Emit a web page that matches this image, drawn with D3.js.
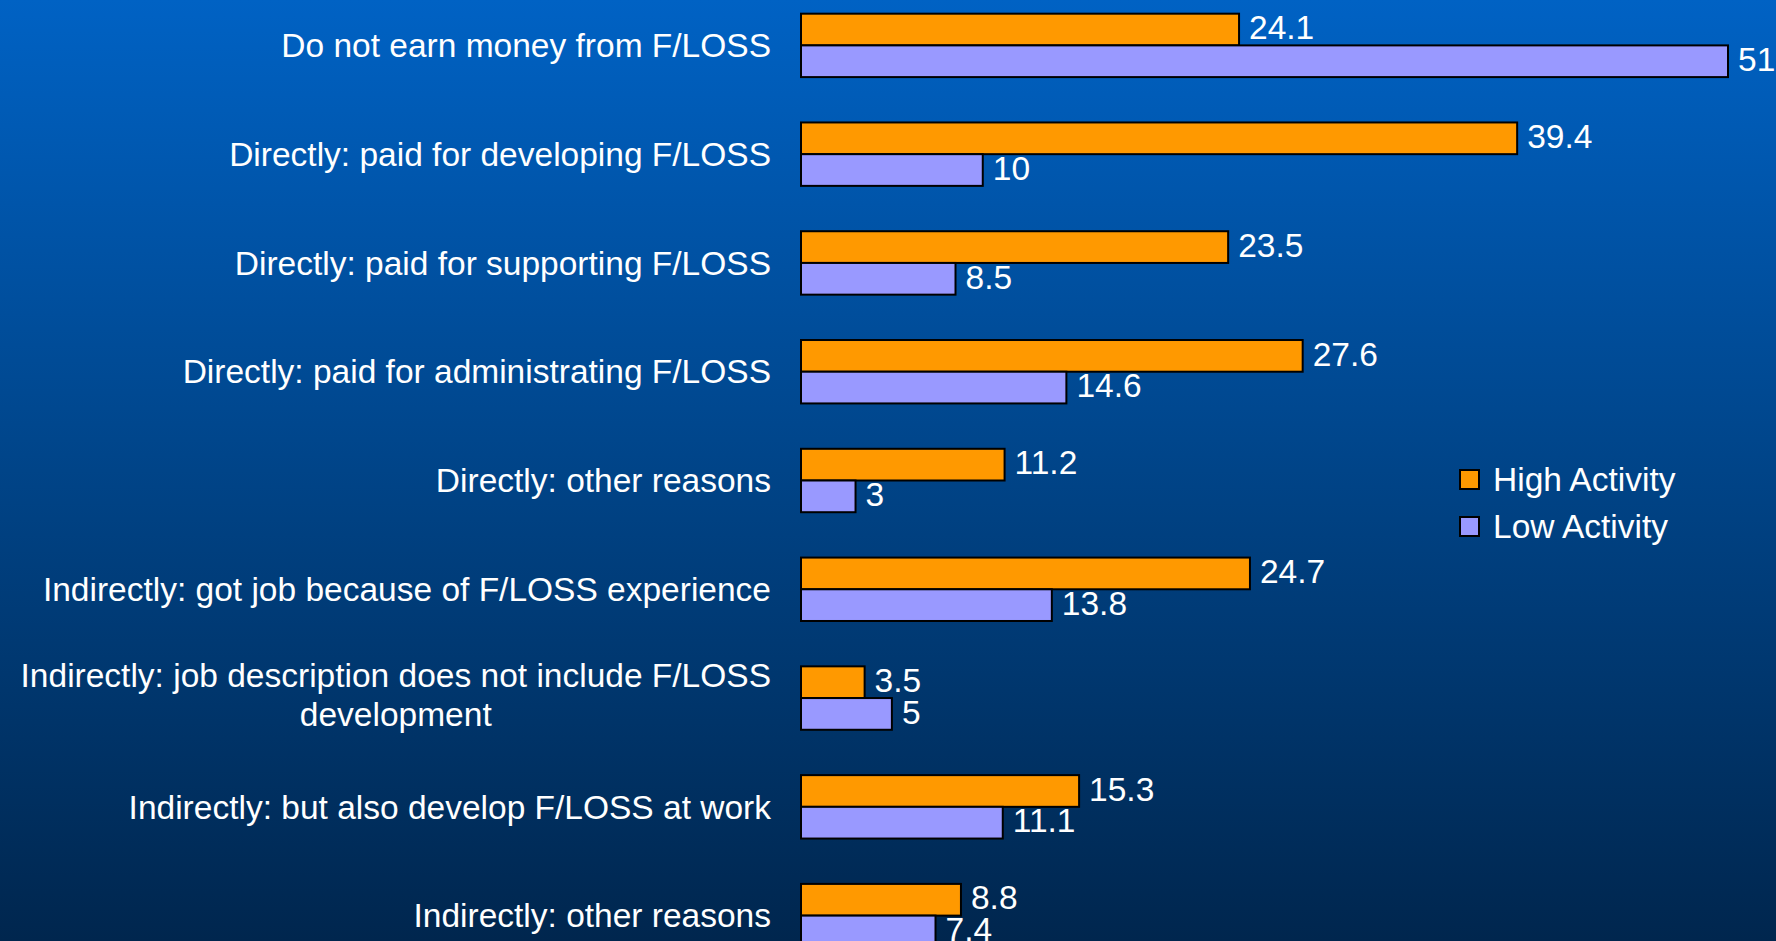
<!DOCTYPE html>
<html>
<head>
<meta charset="utf-8">
<script src="https://cdn.jsdelivr.net/npm/d3@7"></script>
<style>
  html, body { margin: 0; padding: 0; overflow: hidden; }
  svg { display: block; }
  text { font-family: "Liberation Sans", Arial, sans-serif; fill: #ffffff; }
</style>
</head>
<body>
<svg id="chart" width="1776" height="941"></svg>
<script>
// Ways respondents earn money from F/LOSS, by activity level (percent)
const categories = [
  "Do not earn money from F/LOSS",
  "Directly: paid for developing F/LOSS",
  "Directly: paid for supporting F/LOSS",
  "Directly: paid for administrating F/LOSS",
  "Directly: other reasons",
  "Indirectly: got job because of F/LOSS experience",
  "Indirectly: job description does not include F/LOSS development",
  "Indirectly: but also develop F/LOSS at work",
  "Indirectly: other reasons"
];
const highActivity = [24.1, 39.4, 23.5, 27.6, 11.2, 24.7, 3.5, 15.3, 8.8];
const lowActivity  = [51, 10, 8.5, 14.6, 3, 13.8, 5, 11.1, 7.4];
const seriesNames = ["High Activity", "Low Activity"];
const seriesColors = ["#FF9900", "#9999FF"];

// Manual line breaks for long category labels
const labelLines = {
  "Indirectly: job description does not include F/LOSS development":
    ["Indirectly: job description does not include F/LOSS", "development"]
};

const W = 1776, H = 941;
const svg = d3.select("#chart");

// Background: vertical blue gradient
const defs = svg.append("defs");
const grad = defs.append("linearGradient")
  .attr("id", "bg").attr("x1", 0).attr("y1", 0).attr("x2", 0).attr("y2", 1);
grad.append("stop").attr("offset", "0%").attr("stop-color", "#0062C4");
grad.append("stop").attr("offset", "50%").attr("stop-color", "#004488");
grad.append("stop").attr("offset", "100%").attr("stop-color", "#00264E");
svg.append("rect").attr("width", W).attr("height", H).attr("fill", "url(#bg)");

const data = categories.map((c, i) => ({
  category: c,
  values: [highActivity[i], lowActivity[i]]
}));

// Scales
const x = d3.scaleLinear().domain([0, 51]).range([801, 1728]);
const y0 = d3.scaleBand().domain(categories).range([-9, 970])
  .paddingInner(0.417).paddingOuter(0.2085);
const y1 = d3.scaleBand().domain(seriesNames).range([0, y0.bandwidth()]);

// Category axis (line and ticks hidden; labels drawn below)
const yAxis = d3.axisLeft(y0).tickSize(0).tickPadding(0).tickFormat(() => "");
svg.append("g").attr("transform", `translate(${x(0)},0)`).call(yAxis)
  .call(g => g.select(".domain").remove());

const labelX = 771;
const fontSize = 33.5;
const lineGap = 1.18; // em between wrapped lines
const catLabels = svg.append("g").selectAll("text")
  .data(categories).join("text")
  .attr("x", labelX)
  .attr("y", d => y0(d) + y0.bandwidth() / 2)
  .attr("text-anchor", "end")
  .attr("font-size", fontSize);
catLabels.each(function(d) {
  const lines = labelLines[d] || [d];
  const t = d3.select(this);
  if (lines.length === 1) {
    t.append("tspan").attr("x", labelX).attr("dy", "0.35em").text(lines[0]);
  } else {
    // centre the wrapped block on its widest line, nudged slightly upward
    t.attr("text-anchor", "middle");
    const tmp = t.append("tspan").text(lines[0]);
    const wMax = tmp.node().getComputedTextLength();
    tmp.remove();
    const cx = labelX - wMax / 2;
    lines.forEach((ln, k) => {
      t.append("tspan").attr("x", cx)
        .attr("dy", k === 0 ? (0.25 - lineGap * (lines.length - 1) / 2) + "em" : lineGap + "em")
        .text(ln);
    });
  }
});

// Bars
const groups = svg.append("g").selectAll("g")
  .data(data).join("g")
  .attr("transform", d => `translate(0,${y0(d.category)})`);

groups.selectAll("rect")
  .data(d => d.values.map((v, k) => ({ key: seriesNames[k], value: v, k })))
  .join("rect")
  .attr("x", x(0))
  .attr("y", d => y1(d.key))
  .attr("width", d => x(d.value) - x(0))
  .attr("height", y1.bandwidth())
  .attr("fill", d => seriesColors[d.k])
  .attr("stroke", "#000")
  .attr("stroke-width", 2);

// Value labels
groups.selectAll("text")
  .data(d => d.values.map((v, k) => ({ key: seriesNames[k], value: v, k })))
  .join("text")
  .attr("x", d => x(d.value) + 10)
  .attr("y", d => y1(d.key) + y1.bandwidth() / 2 - 2)
  .attr("dy", "0.35em")
  .attr("font-size", fontSize)
  .text(d => d3.format("")(d.value));

// Legend
const legend = svg.append("g").attr("transform", "translate(1460,470)");
const items = legend.selectAll("g").data(seriesNames).join("g")
  .attr("transform", (d, i) => `translate(0,${i * 47})`);
items.append("rect")
  .attr("width", 19).attr("height", 19)
  .attr("fill", (d, i) => seriesColors[i])
  .attr("stroke", "#000").attr("stroke-width", 2);
items.append("text")
  .attr("x", 33).attr("y", 9.5).attr("dy", "0.35em")
  .attr("font-size", fontSize)
  .text(d => d);
</script>
</body>
</html>
